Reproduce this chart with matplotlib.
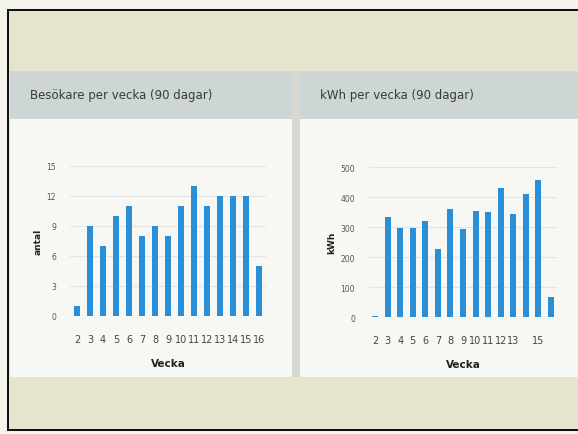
"""Two weekly bar charts (visitors, kWh) on a dashboard-style card."""

import matplotlib.pyplot as plt
from matplotlib.patches import Rectangle

W, H = 578, 435

WEEKS = list(range(2, 17))
VISITORS = [1, 9, 7, 10, 11, 8, 9, 8, 11, 13, 11, 12, 12, 12, 5]
KWH = [5, 335, 297, 297, 320, 228, 360, 295, 353, 350, 430, 343, 410, 458, 68]
KWH_TICKLABELS = ["2", "3", "4", "5", "6", "7", "8", "9", "10", "11",
                  "12", "13", "", "15", ""]

BAR = "#2b8fd8"
BEIGE = "#e6e4cc"
HEADER = "#cdd6d4"
BODY = "#f7f7f4"
TXT = "#3a3a3a"


def px(x0, y0, x1, y1):
    """pixel box (top-left origin) -> figure rect"""
    return [x0 / W, 1 - y1 / H, (x1 - x0) / W, (y1 - y0) / H]


def rect(fig, x0, y0, x1, y1, color):
    l, b, w, h = px(x0, y0, x1, y1)
    fig.patches.append(Rectangle((l, b), w, h, transform=fig.transFigure,
                                 facecolor=color, edgecolor="none", zorder=-10))


fig = plt.figure(figsize=(W / 100, H / 100), dpi=100)
fig.patch.set_facecolor("#f4f3ee")

# card frame + backgrounds
rect(fig, 7, 10, 578, 432, "#111111")
rect(fig, 9, 12, 578, 430, BEIGE)
rect(fig, 10, 72, 292, 120, HEADER)
rect(fig, 10, 120, 292, 378, BODY)
rect(fig, 292, 72, 300, 378, "#d8d8d2")
rect(fig, 300, 72, 578, 120, HEADER)
rect(fig, 300, 120, 578, 378, BODY)

fig.text(30 / W, 1 - 96 / H, "Besökare per vecka (90 dagar)",
         fontsize=8.5, color=TXT, va="center")
fig.text(320 / W, 1 - 96 / H, "kWh per vecka (90 dagar)",
         fontsize=8.5, color=TXT, va="center")


def bar_panel(rect_px, values, ylim, yticks, xlim, ylabel, xticklabels):
    ax = fig.add_axes(px(*rect_px))
    ax.set_facecolor("none")
    ax.bar(WEEKS, values, width=0.48, color=BAR, zorder=3)
    ax.set_xlim(*xlim)
    ax.set_ylim(*ylim)
    ax.set_yticks(yticks)
    ax.set_xticks(WEEKS)
    ax.set_xticklabels(xticklabels)
    ax.grid(axis="y", color="#e4e4e4", linewidth=0.8, zorder=0)
    for s in ax.spines.values():
        s.set_visible(False)
    ax.tick_params(axis="y", length=0, labelsize=5.5, labelcolor="#555555", pad=10)
    ax.tick_params(axis="x", length=0, labelsize=7, labelcolor="#444444", pad=13)
    ax.set_ylabel(ylabel, fontsize=6.5, fontweight="bold", color="#222222", labelpad=3)
    ax.set_xlabel("Vecka", fontsize=7.5, fontweight="bold", color="#222222", labelpad=10)
    return ax


bar_panel((70, 167, 266, 317), VISITORS, (0, 15), [0, 3, 6, 9, 12, 15],
          (1.45, 16.55), "antal", [str(w) for w in WEEKS])
bar_panel((369, 168, 557, 318), KWH, (0, 500), [0, 100, 200, 300, 400, 500],
          (1.52, 16.48), "kWh", KWH_TICKLABELS)

fig.savefig("out.png", dpi=100)
